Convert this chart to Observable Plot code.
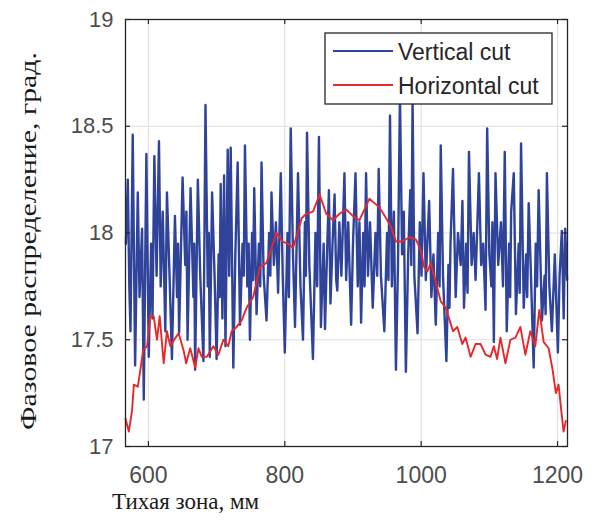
<!DOCTYPE html>
<html>
<head>
<meta charset="utf-8">
<script src="https://cdn.jsdelivr.net/npm/d3@7"></script>
<script src="https://cdn.jsdelivr.net/npm/@observablehq/plot@0.6"></script>
<style>
  html, body { margin: 0; padding: 0; background: #fff; }
  #chart { width: 598px; height: 525px; }
</style>
</head>
<body>
<div id="chart"></div>
<script>
// ---- data: [position mm, phase deg] ----
const verticalCut = [
[567,17.95],[569.8,18.25],[572,17.75],[573.7,17.54],[577,18.46],[580.5,17.38],[584.4,18.19],[587,17.70],[590.7,18.02],[593.2,17.22],
[597,18.37],[600.5,17.42],[604,17.95],[606,17.60],[608.7,18.36],[612,17.80],[615.5,18.43],[618,17.75],[621,18.10],[624.8,17.54],
[627.2,18.19],[631,17.80],[634.5,17.41],[638.9,18.08],[642,17.70],[643.5,17.95],[645,17.53],[650.1,18.26],[654,17.85],[655.7,18.10],
[657.4,17.50],[661.8,18.21],[666,17.70],[667.2,17.95],[668.5,17.36],[672.5,18.25],[676,17.80],[680.7,17.40],[683.7,18.60],[687,17.75],
[688.5,18.00],[690,17.42],[693.4,18.19],[697,17.80],[700,17.41],[703,17.90],[704.5,17.70],[706,18.23],[708.5,17.60],[711,18.27],
[713,17.47],[716.3,18.39],[718.5,17.80],[720.7,18.40],[724.5,17.37],[727.5,17.90],[730.9,18.33],[734.3,17.57],[738,17.95],[739.8,17.80],
[741.6,18.41],[745,17.75],[747,17.95],[748.9,17.50],[752,18.00],[753.5,17.78],[755.2,18.21],[758.6,17.62],[762,17.95],[764,17.75],
[765.9,18.33],[769,17.80],[773.2,17.59],[777,18.00],[778.8,17.80],[780.5,18.19],[784,17.85],[787,18.05],[790.2,17.72],[794.1,18.28],
[797,17.80],[800,17.44],[804,18.00],[806,17.70],[808.7,18.49],[812,17.90],[815,17.56],[819.4,18.28],[823,17.75],[826.7,17.50],
[829.5,18.05],[831,17.80],[832.6,18.47],[836,17.85],[841.3,17.41],[845,18.00],[847.5,17.75],[850.1,18.45],[853,17.56],[857,17.95],
[859,17.55],[861,17.80],[864.7,18.20],[867,17.67],[870,17.95],[873,18.18],[875.4,17.78],[877,17.73],[880,18.05],[883,17.80],
[887.5,18.28],[890,17.78],[893,18.05],[897.3,17.57],[900,17.95],[903.7,18.28],[907,17.75],[909.5,18.05],[911.9,17.58],[915,18.00],
[917,17.75],[919.2,18.28],[922,17.80],[925,18.05],[929,17.65],[933,18.00],[935.5,17.80],[937.7,18.30],[941,17.80],[946,17.54],
[950,18.00],[952,17.78],[954.3,18.55],[957,17.75],[960,18.10],[963,17.36],[966,17.85],[968.9,18.65],[972,17.90],[974.5,18.10],
[977.6,17.35],[981,17.90],[984,18.20],[985.5,17.85],[987.4,18.62],[990,17.80],[994.7,17.53],[998,18.05],[1000.5,17.80],[1003.4,18.28],
[1006.8,17.78],[1009,17.95],[1011.7,18.15],[1015,17.70],[1018,17.90],[1021.4,17.57],[1025,18.00],[1027,17.75],[1028.7,18.41],[1032,17.80],
[1037,17.40],[1040,17.85],[1041.5,17.65],[1043,17.95],[1046.7,18.30],[1050.6,17.70],[1054,18.00],[1058,17.85],[1060.5,18.15],[1062.8,17.65],
[1066,17.95],[1068,17.72],[1070.1,18.38],[1074,17.85],[1077,18.00],[1079.8,17.78],[1084.7,18.28],[1088,17.85],[1091,17.95],[1094.4,17.64],
[1096.8,18.49],[1100,17.90],[1103,17.75],[1104.5,18.05],[1106.6,17.49],[1109,18.28],[1113,17.85],[1117,18.05],[1120,17.75],[1122.6,18.38],
[1125.5,17.54],[1129,17.95],[1130.5,17.70],[1132,18.10],[1135.8,18.28],[1139,17.62],[1143,17.95],[1144.5,17.72],[1146.5,18.42],[1150.4,17.65],
[1154,17.90],[1155.5,17.70],[1157.7,18.14],[1161,17.80],[1165,17.37],[1168,17.95],[1170,17.75],[1172.3,18.20],[1177.1,17.59],[1181,17.80],
[1182.5,17.62],[1184.4,18.28],[1188,17.75],[1191.7,17.54],[1196,17.90],[1200.5,17.44],[1203,17.80],[1206.3,18.01],[1209,17.60],[1211.2,18.02],
[1214,17.78]
];

const horizontalCut = [
[566.4,17.13],[571.3,17.07],[576.1,17.17],[578.6,17.29],[584.4,17.28],[588.3,17.36],[592.2,17.45],[598,17.47],[602.9,17.61],[607.8,17.61],
[612.6,17.50],[616.5,17.61],[622.4,17.39],[627.2,17.54],[632.1,17.47],[637.9,17.50],[644.3,17.53],[651.6,17.45],[655.4,17.39],[661.3,17.46],
[668.6,17.37],[673.4,17.46],[678.3,17.42],[685.6,17.42],[695.3,17.47],[702.6,17.43],[709.9,17.50],[717.2,17.47],[722.1,17.54],[729.4,17.56],
[736.7,17.59],[744,17.65],[753.7,17.70],[763.5,17.84],[773.2,17.86],[780.5,17.93],[787.8,18.00],[796.6,17.96],[804.8,17.95],[812.1,17.93],
[819.4,18.01],[825,18.07],[831.6,18.09],[841.3,18.10],[851.1,18.18],[860.8,18.09],[870.5,18.06],[880.3,18.09],[890,18.11],[899.8,18.08],
[909.5,18.06],[924.1,18.16],[938.7,18.12],[948.4,18.07],[955.7,18.03],[963,17.96],[972.8,17.96],[982.5,17.98],[992.2,17.97],[999.5,17.92],
[1004.4,17.84],[1009.2,17.82],[1014.1,17.86],[1021.4,17.77],[1028.7,17.68],[1036,17.65],[1040.9,17.60],[1046.7,17.54],[1053,17.56],[1060.3,17.48],
[1065.2,17.51],[1072.5,17.42],[1079.8,17.48],[1087.1,17.48],[1094.4,17.43],[1101.7,17.42],[1106.6,17.47],[1111.4,17.41],[1116.3,17.51],[1123.6,17.39],
[1130.9,17.50],[1138.2,17.51],[1145.5,17.56],[1152.8,17.43],[1160.1,17.54],[1167.4,17.47],[1173.2,17.64],[1179.6,17.49],[1186.9,17.46],[1192.7,17.36],
[1197.6,17.25],[1201.5,17.29],[1205.4,17.17],[1208.8,17.07],[1212.2,17.12]
];

const xTicks = [600, 800, 1000, 1200];
const yTicks = [17, 17.5, 18, 18.5, 19];
const seriesNames = ["Vertical cut", "Horizontal cut"];
const xLabel = "Тихая зона, мм";
const yLabel = "Фазовое распределение, град.";

// ---- build tables ----
const vertical = verticalCut.map(([x, y]) => ({x, y}));
const horizontal = horizontalCut.map(([x, y]) => ({x, y}));

const xDomain = [566.4, 1214.6];
const yDomain = [17, 19];
const W = 598, H = 525;
const mL = 125, mR = 31, mT = 19, mB = 79;
const pxX = (xDomain[1] - xDomain[0]) / (W - mL - mR);
const pxY = (yDomain[1] - yDomain[0]) / (H - mT - mB);
const tk = 5;

const BLUE = "#2e4399";
const RED = "#e6282b";
const AXIS = "#262626";
const TICKTXT = "#4d4d4d";
const fmt = d => String(d);

const chart = Plot.plot({
  width: W, height: H,
  marginLeft: mL, marginRight: mR, marginTop: mT, marginBottom: mB,
  style: {fontFamily: "'Liberation Sans', Arial, sans-serif", background: "#fff"},
  x: {domain: xDomain},
  y: {domain: yDomain},
  marks: [
    Plot.ruleX(xTicks, {stroke: "#dedede", strokeWidth: 1}),
    Plot.ruleY(yTicks, {stroke: "#dedede", strokeWidth: 1}),
    Plot.line(vertical, {x: "x", y: "y", stroke: BLUE, strokeWidth: 2.4}),
    Plot.line(horizontal, {x: "x", y: "y", stroke: RED, strokeWidth: 1.9}),
    Plot.frame({stroke: AXIS, strokeWidth: 1.3}),
    // inward ticks on all four sides
    Plot.ruleX(xTicks, {y1: yDomain[0], y2: yDomain[0] + tk * pxY, stroke: AXIS, strokeWidth: 1.2}),
    Plot.ruleX(xTicks, {y1: yDomain[1], y2: yDomain[1] - tk * pxY, stroke: AXIS, strokeWidth: 1.2}),
    Plot.ruleY(yTicks, {x1: xDomain[0], x2: xDomain[0] + tk * pxX, stroke: AXIS, strokeWidth: 1.2}),
    Plot.ruleY(yTicks, {x1: xDomain[1], x2: xDomain[1] - tk * pxX, stroke: AXIS, strokeWidth: 1.2}),
    Plot.axisX({ticks: xTicks, tickFormat: fmt, tickSize: 0, tickPadding: 20, fontSize: 23, color: TICKTXT, label: null}),
    Plot.axisY({ticks: yTicks, tickFormat: fmt, tickSize: 0, tickPadding: 12, fontSize: 22, color: TICKTXT, label: null})
  ]
});

const svg = d3.select(chart);

// legend
const lg = svg.append("g").attr("class", "legend").attr("text-anchor", "start");
lg.append("rect").attr("x", 325).attr("y", 33).attr("width", 227).attr("height", 71)
  .attr("fill", "#fff").attr("stroke", AXIS).attr("stroke-width", 1.3);
[[BLUE, 51], [RED, 85]].forEach(([c, y], i) => {
  lg.append("line").attr("x1", 333).attr("x2", 393).attr("y1", y).attr("y2", y)
    .attr("stroke", c).attr("stroke-width", 1.9);
  lg.append("text").attr("x", 398).attr("y", y + 1).attr("dy", "0.35em")
    .attr("font-family", "'Liberation Sans', Arial, sans-serif").attr("font-size", 23)
    .attr("fill", "#262626").text(seriesNames[i]);
});

// axis titles
svg.append("text").attr("x", 112).attr("y", 509).attr("text-anchor", "start")
  .attr("font-family", "'Liberation Serif', 'Times New Roman', serif").attr("font-size", 23)
  .attr("fill", "#1a1a1a").text(xLabel);
svg.append("text").attr("transform", "translate(36,241) rotate(-90)").attr("text-anchor", "middle")
  .attr("font-family", "'Liberation Serif', 'Times New Roman', serif").attr("font-size", 23)
  .attr("textLength", 378).attr("lengthAdjust", "spacingAndGlyphs")
  .attr("fill", "#1a1a1a").text(yLabel);

document.getElementById("chart").appendChild(chart);
</script>
</body>
</html>
